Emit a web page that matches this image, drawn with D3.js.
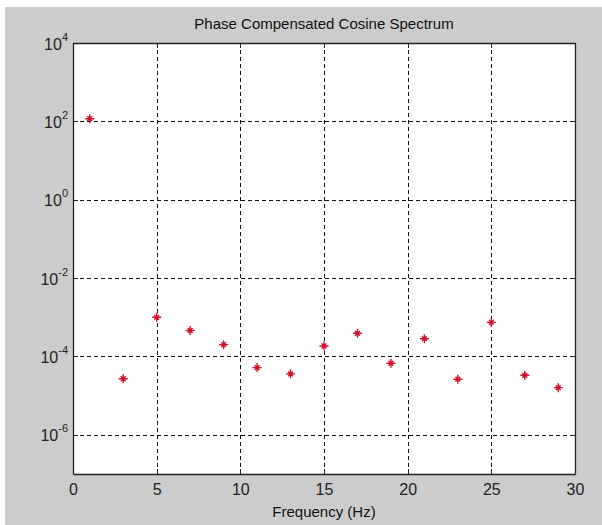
<!DOCTYPE html>
<html>
<head>
<meta charset="utf-8">
<script src="https://cdn.jsdelivr.net/npm/d3@7"></script>
<style>
  body { margin: 0; background: #fff; }
  svg { display: block; font-family: "Liberation Sans", Arial, sans-serif; }
</style>
</head>
<body>
<svg id="chart" width="602" height="525"></svg>
<script>
// odd harmonics and their compensated magnitude
const frequencies = [1, 3, 5, 7, 9, 11, 13, 15, 17, 19, 21, 23, 25, 27, 29];
const magnitudes = [117, 2.7e-5, 1.0e-3, 4.6e-4, 2.0e-4, 5.2e-5, 3.6e-5, 1.85e-4,
  3.9e-4, 6.7e-5, 2.84e-4, 2.63e-5, 7.4e-4, 3.3e-5, 1.6e-5];
const xTicks = [0, 5, 10, 15, 20, 25, 30];
const yExponents = [-6, -4, -2, 0, 2, 4];

const margin = { top: 43, right: 27, bottom: 51, left: 73 };
const svg = d3.select('#chart');
const W = +svg.attr('width');
const H = +svg.attr('height');
const width = W - margin.left - margin.right;
const height = H - margin.top - margin.bottom;

// grey figure window, leaving a thin white edge top and left
svg.append('rect')
  .attr('x', 5).attr('y', 7)
  .attr('width', W - 5).attr('height', H - 7)
  .attr('fill', '#cccccc');

const x = d3.scaleLinear().domain([0, 30]).range([0, width]);
const y = d3.scaleLog().domain([1e-7, 1e4]).range([height, 0]);
const yTicks = yExponents.map(e => Math.pow(10, e));

const g = svg.append('g').attr('transform', `translate(${margin.left},${margin.top})`);

g.append('rect').attr('width', width).attr('height', height).attr('fill', '#fff');

/*
Dashed grid, built from the axis helper with long ticks and no labels.
*/
const grids = {
  x: g.append('g').attr('transform', `translate(0,${height})`)
    .call(d3.axisBottom(x).tickValues(xTicks).tickSize(-height).tickFormat('')),
  y: g.append('g')
    .call(d3.axisLeft(y).tickValues(yTicks).tickSize(-width).tickFormat('')),
};
Object.values(grids).forEach(grid => {
  grid.selectAll('.tick line')
    .attr('stroke', '#111')
    .attr('stroke-dasharray', '4,3')
    .attr('shape-rendering', 'crispEdges');
  grid.select('path').remove();
});

// short inward ticks on all four sides
const tick = 5;
const axisB = g.append('g').attr('transform', `translate(0,${height})`)
  .call(d3.axisBottom(x).tickValues(xTicks).tickSizeInner(-tick).tickSizeOuter(0).tickPadding(10));
const axisT = g.append('g')
  .call(d3.axisTop(x).tickValues(xTicks).tickSizeInner(-tick).tickSizeOuter(0).tickFormat(''));
const axisL = g.append('g')
  .call(d3.axisLeft(y).tickValues(yTicks).tickSizeInner(-tick).tickSizeOuter(0).tickFormat(''));
const axisR = g.append('g').attr('transform', `translate(${width},0)`)
  .call(d3.axisRight(y).tickValues(yTicks).tickSizeInner(-tick).tickSizeOuter(0).tickFormat(''));

[axisB, axisT, axisL, axisR].forEach(axis => {
  axis.select('.domain').attr('stroke', '#222').attr('stroke-width', 1.3);
  axis.selectAll('.tick line').attr('stroke', '#222').attr('shape-rendering', 'crispEdges');
});

axisB.selectAll('.tick text')
  .attr('font-size', 16).attr('fill', '#222').attr('font-family', null);

// powers of ten with a raised exponent
axisL.selectAll('.tick').append('text')
  .attr('x', -5)
  .attr('y', 6)
  .attr('text-anchor', 'end')
  .attr('fill', '#222')
  .attr('font-size', 16)
  .each(function (d) {
    const t = d3.select(this);
    t.append('tspan').text('10');
    t.append('tspan')
      .attr('dy', -9)
      .attr('font-size', 11)
      .text(Math.round(Math.log10(d)));
  });

// red star markers
const star = 'M-4.5,0H4.5M0,-4.5V4.5M-2.4,-2.4L2.4,2.4M-2.4,2.4L2.4,-2.4';
g.append('g').selectAll('path')
  .data(frequencies)
  .join('path')
  .attr('transform', (d, i) => `translate(${x(d)},${y(magnitudes[i])})`)
  .attr('d', star)
  .attr('stroke', '#d0102a')
  .attr('stroke-width', 1.4)
  .attr('fill', 'none');

svg.append('text')
  .attr('x', margin.left + width / 2)
  .attr('y', 29)
  .attr('text-anchor', 'middle')
  .attr('font-size', 15)
  .attr('fill', '#111')
  .text('Phase Compensated Cosine Spectrum');

svg.append('text')
  .attr('x', margin.left + width / 2)
  .attr('y', 517)
  .attr('text-anchor', 'middle')
  .attr('font-size', 15)
  .attr('fill', '#111')
  .text('Frequency (Hz)');
</script>
</body>
</html>
